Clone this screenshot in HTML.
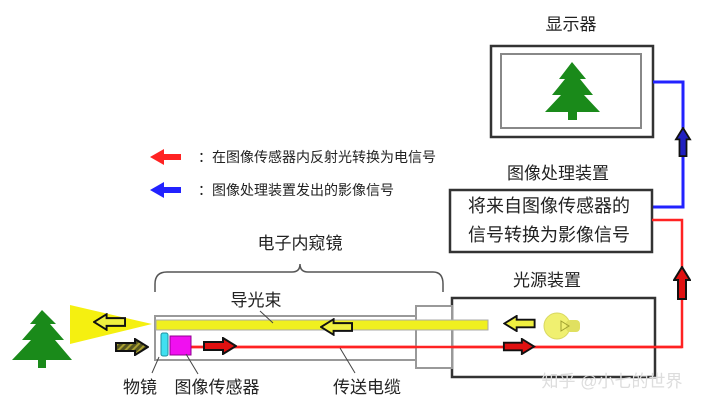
<!DOCTYPE html><html><head><meta charset="utf-8"><style>body{margin:0;background:#fff}svg{display:block}text{font-family:"Liberation Sans","Noto Sans CJK SC",sans-serif;fill:#222}</style></head><body>
<svg width="720" height="411" viewBox="0 0 720 411">
<defs>
<symbol id="ar" viewBox="0 0 34 18"><path d="M1 5H20V1L33 9L20 17V13H1Z" stroke="#111" stroke-width="2"/></symbol>
<pattern id="hatch" width="5" height="5" patternUnits="userSpaceOnUse" patternTransform="rotate(45)"><rect width="5" height="5" fill="#555520"/><rect width="2" height="5" fill="#aaa030"/></pattern>
</defs>
<!-- legend -->
<g transform="translate(182,149) scale(-1,1)"><path d="M1 5H18V0L32 8L18 16V11H1Z" fill="#f22"/></g>
<text x="198" y="162" font-size="14">：在图像传感器内反射光转换为电信号</text>
<g transform="translate(182,182) scale(-1,1)"><path d="M1 5H18V0L32 8L18 16V11H1Z" fill="#22f"/></g>
<text x="198" y="195" font-size="14">：图像处理装置发出的影像信号</text>
<!-- display -->
<text x="571" y="30" font-size="17" text-anchor="middle">显示器</text>
<rect x="491" y="46" width="162" height="91" fill="#fff" stroke="#333" stroke-width="2.5"/>
<rect x="501" y="54" width="140" height="74" fill="#fff" stroke="#888" stroke-width="2"/>
<path d="M572 62L559 79H565L552 95H561L545 112H568V120H577V112H600L584 95H593L580 79H586Z" fill="#1a8a1a"/>
<polyline points="653,82 683,82 683,207 652,207" fill="none" stroke="#22f" stroke-width="3"/>
<g transform="translate(674,157) rotate(-90)"><use href="#ar" width="30" height="18" fill="#2020c0"/></g>
<!-- processing -->
<text x="558" y="179" font-size="17" text-anchor="middle">图像处理装置</text>
<rect x="450" y="190" width="202" height="62" fill="#fff" stroke="#333" stroke-width="2.5"/>
<text x="549" y="212" font-size="18" text-anchor="middle">将来自图像传感器的</text>
<text x="549" y="241" font-size="18" text-anchor="middle">信号转换为影像信号</text>
<polyline points="652,220 682,220 682,347 190,347" fill="none" stroke="#f22" stroke-width="2.5"/>
<g transform="translate(673,300) rotate(-90)"><use href="#ar" width="34" height="18" fill="#e01010"/></g>
<!-- light source -->
<text x="547" y="286" font-size="17" text-anchor="middle">光源装置</text>
<rect x="452" y="298" width="203" height="79" fill="none" stroke="#333" stroke-width="2.5"/>
<!-- brace -->
<text x="300" y="249" font-size="17" text-anchor="middle">电子内窥镜</text>
<path d="M155 292V284Q155 272 167 272H292Q300 272 300 264Q300 272 308 272H433Q443 272 443 284V292" fill="none" stroke="#555" stroke-width="1.5"/>
<!-- endoscope -->
<rect x="155" y="316" width="261" height="44" fill="none" stroke="#999" stroke-width="2"/>
<rect x="416" y="306" width="36" height="62" fill="#fff" stroke="#999" stroke-width="2"/>
<rect x="156" y="320" width="332" height="10" fill="#f0f020" stroke="#aaa" stroke-width="1"/>
<polyline points="191,347 682,347" stroke="#f22" stroke-width="2.5"/>
<path d="M70 305L152 324L70 344Z" fill="#f5f010"/>
<g transform="translate(126,313) scale(-1,1)"><use href="#ar" width="33" height="18" fill="#f0f040"/></g>
<use href="#ar" x="115" y="338" width="34" height="18" fill="url(#hatch)"/>
<rect x="161" y="333" width="7" height="23" rx="2" fill="#40e0f0" stroke="#2090a0"/>
<rect x="170" y="336" width="21" height="19" fill="#f010f0" stroke="#900090"/>
<use href="#ar" x="203" y="337" width="34" height="18" fill="#e01010"/>
<g transform="translate(353,318) scale(-1,1)"><use href="#ar" width="33" height="18" fill="#f0f040"/></g>
<g transform="translate(536,315) scale(-1,1)"><use href="#ar" width="33" height="17" fill="#f0f040"/></g>
<use href="#ar" x="502" y="338" width="34" height="17" fill="#e01010"/>
<circle cx="557" cy="326" r="13" fill="#f0f070" stroke="#d8d860"/>
<rect x="566" y="320" width="14" height="12" rx="4" fill="#e0e060"/>
<path d="M561 321L569 326L561 331Z" fill="none" stroke="#a0a030"/>
<!-- tree left -->
<path d="M42 310L30 324H36L22 340H31L12 360H38V368H46V360H72L55 340H64L50 324H56Z" fill="#1a8a1a"/>
<!-- labels -->
<text x="256" y="306" font-size="17" text-anchor="middle">导光束</text>
<line x1="260" y1="311" x2="273" y2="323" stroke="#444"/>
<line x1="159" y1="357" x2="152" y2="373" stroke="#444"/>
<line x1="186" y1="354" x2="198" y2="374" stroke="#444"/>
<line x1="340" y1="348" x2="355" y2="373" stroke="#444"/>
<text x="140" y="393" font-size="17" text-anchor="middle">物镜</text>
<text x="217" y="393" font-size="17" text-anchor="middle">图像传感器</text>
<text x="367" y="393" font-size="17" text-anchor="middle">传送电缆</text>
<text x="612" y="387" font-size="17" text-anchor="middle" style="fill:#ddd">知乎 @小七的世界</text>
</svg></body></html>
